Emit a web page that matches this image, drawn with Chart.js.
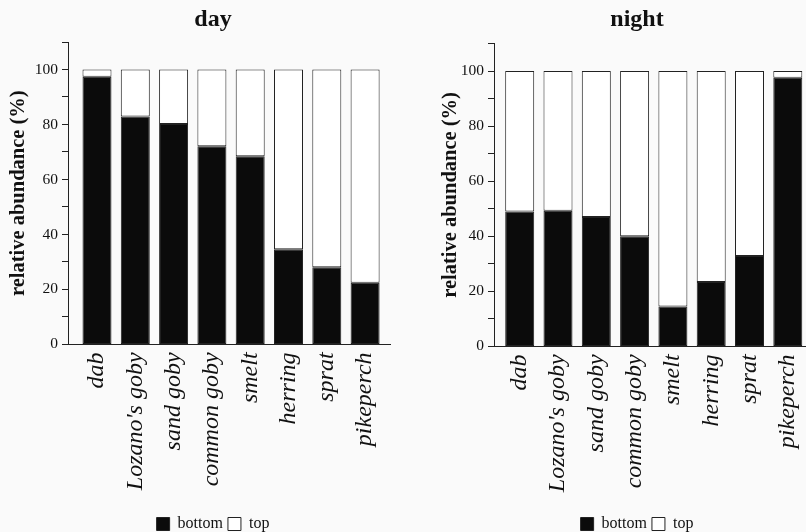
<!DOCTYPE html>
<html>
<head>
<meta charset="utf-8">
<script src="https://cdn.jsdelivr.net/npm/chart.js@4.4.1/dist/chart.umd.min.js"></script>
<style>
  html, body { margin: 0; padding: 0; background: #fafafa; width: 806px; height: 532px; overflow: hidden; }
  .panel { position: absolute; top: 0; }
  #dayBox { left: 0; width: 426px; height: 542px; }
  #nightBox { left: 438px; width: 398px; height: 542px; }
</style>
</head>
<body>
<div class="panel" id="dayBox"><canvas id="dayChart"></canvas></div>
<div class="panel" id="nightBox"><canvas id="nightChart"></canvas></div>
<script>
// Species along the x axis
const species = ['dab', "Lozano's goby", 'sand goby', 'common goby', 'smelt', 'herring', 'sprat', 'pikeperch'];

// Share of each species caught near the bottom (%), day and night
const dayBottom   = [97.4, 82.9, 80.2, 72.1, 68.4, 34.6, 28.1, 22.4];
const nightBottom = [49.0, 49.3, 47.0, 40.0, 14.5, 23.4, 32.8, 97.6];

// Remaining share caught near the surface (%)
const dayTop   = [2.6, 17.1, 19.8, 27.9, 31.6, 65.4, 71.9, 77.6];
const nightTop = [51.0, 50.7, 53.0, 60.0, 85.5, 76.6, 67.2, 2.4];

// Y axis ticks (every 10, labelled every 20 up to 100)
const yTicksLabelled = [0, 20, 40, 60, 80, 100];

const SERIF = "'Liberation Serif', 'Times New Roman', serif";
const INK = '#111';

function points(values) {
  return values.map((v, i) => ({ x: i, y: v }));
}

function makeChart(id, titleText, bottomVals, topVals, geom) {
  const ctx = document.getElementById(id);
  return new Chart(ctx, {
    type: 'bar',
    data: {
      datasets: [
        {
          label: 'bottom',
          data: points(bottomVals),
          backgroundColor: '#0b0b0b',
          borderColor: '#222',
          borderWidth: 1,
          borderSkipped: false,
          barPercentage: 0.757,
          categoryPercentage: 1
        },
        {
          label: 'top',
          data: points(topVals),
          backgroundColor: '#ffffff',
          borderColor: '#222',
          borderWidth: 1,
          borderSkipped: false,
          barPercentage: 0.757,
          categoryPercentage: 1
        }
      ]
    },
    options: {
      responsive: true,
      maintainAspectRatio: false,
      animation: false,
      events: [],
      layout: { padding: 0 },
      plugins: {
        title: {
          display: true,
          text: titleText,
          color: INK,
          font: { family: SERIF, size: 24, weight: 'bold' },
          padding: { top: geom.titleTop, bottom: geom.titleBottom }
        },
        legend: {
          display: true,
          position: 'bottom',
          labels: {
            color: INK,
            font: { family: SERIF, size: 16 },
            boxWidth: 13,
            boxHeight: 13,
            padding: 5
          }
        },
        tooltip: { enabled: false }
      },
      scales: {
        x: {
          type: 'linear',
          offset: false,
          stacked: true,
          min: geom.xMin,
          max: geom.xMax,
          grid: { display: false, drawTicks: false, offset: false },
          border: { display: true, color: '#222', width: 1 },
          ticks: {
            autoSkip: false,
            minRotation: 90,
            maxRotation: 90,
            padding: 8,
            color: INK,
            font: { family: SERIF, size: 24, style: 'italic' },
            callback: (v) => species[v]
          },
          afterBuildTicks: (scale) => {
            scale.ticks = species.map((_, i) => ({ value: i }));
          },
          afterFit: (scale) => { scale.height = geom.xHeight; }
        },
        y: {
          stacked: true,
          min: 0,
          max: 110,
          grid: { drawOnChartArea: false, tickLength: 6, color: '#222' },
          border: { display: true, color: '#222', width: 1 },
          ticks: {
            stepSize: 10,
            padding: 4,
            color: INK,
            font: { family: SERIF, size: 15.5 },
            callback: (v) => (yTicksLabelled.includes(v) ? String(v) : '')
          },
          title: {
            display: true,
            text: 'relative abundance (%)',
            color: INK,
            font: { family: SERIF, size: 20.5, weight: 'bold' },
            padding: { top: geom.yTitlePad, bottom: 0 }
          },
          afterFit: (scale) => { scale.width = geom.yWidth; }
        },
        spacer: {
          type: 'linear',
          position: 'right',
          display: true,
          grid: { display: false },
          border: { display: false },
          ticks: { display: false },
          afterFit: (scale) => { scale.width = geom.rightGap; }
        }
      }
    }
  });
}

makeChart('dayChart', 'day', dayBottom, dayTop, {
  titleTop: 5, titleBottom: 8.2,
  xMin: -0.757, xMax: 7.65, xHeight: 166.6,
  yWidth: 68, yTitlePad: 6.5, rightGap: 36
});

makeChart('nightChart', 'night', nightBottom, nightTop, {
  titleTop: 5, titleBottom: 9.7,
  xMin: -0.671, xMax: 7.684, xHeight: 164.6,
  yWidth: 56, yTitlePad: 0, rightGap: 22
});
</script>
</body>
</html>
